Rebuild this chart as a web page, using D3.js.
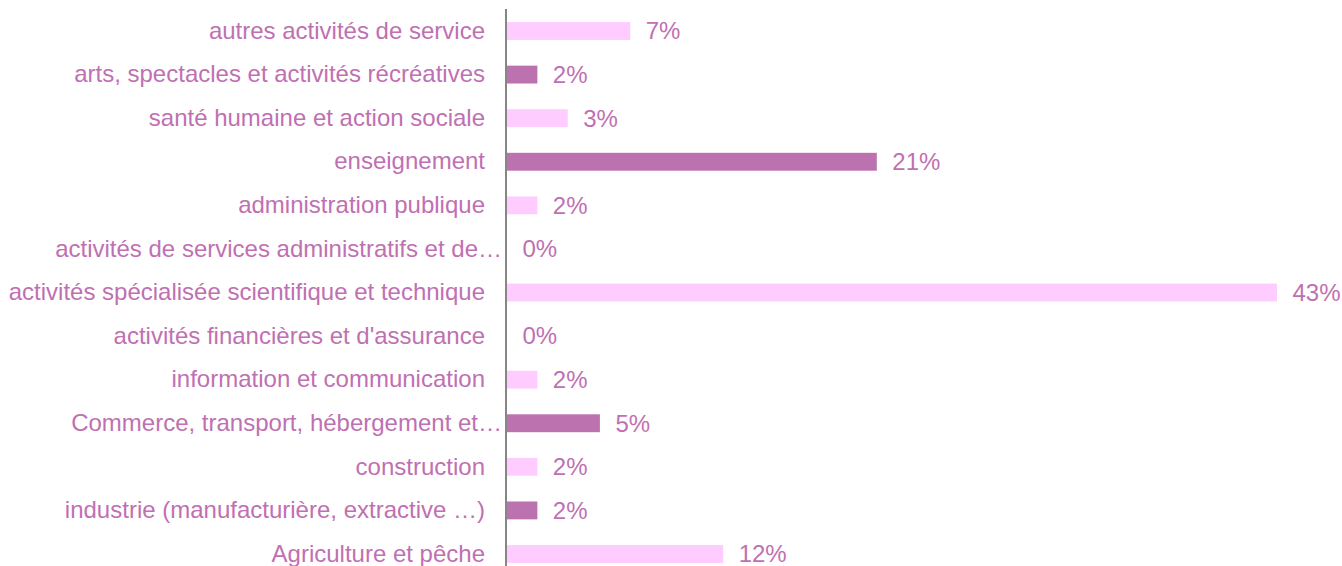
<!DOCTYPE html>
<html>
<head>
<meta charset="utf-8">
<script src="https://cdn.jsdelivr.net/npm/d3@7"></script>
<style>
  body { margin: 0; background: #fff; }
  text { font-family: "Liberation Sans", Arial, sans-serif; font-size: 24px; fill: #bf70b2; }
</style>
</head>
<body>
<div id="chart"></div>
<script>
// categories, top to bottom
const categories = [
  "autres activités de service",
  "arts, spectacles et activités récréatives",
  "santé humaine et action sociale",
  "enseignement",
  "administration publique",
  "activités de services administratifs et de…",
  "activités spécialisée scientifique et technique",
  "activités financières et d'assurance",
  "information et communication",
  "Commerce, transport, hébergement et…",
  "construction",
  "industrie (manufacturière, extractive …)",
  "Agriculture et pêche"
];
// share in percent
const values = [6.9, 1.7, 3.4, 20.7, 1.7, 0, 43.1, 0, 1.7, 5.2, 1.7, 1.7, 12.1];
const valueLabels = ["7%", "2%", "3%", "21%", "2%", "0%", "43%", "0%", "2%", "5%", "2%", "2%", "12%"];

const width = 1342, height = 566;
const margin = { top: 9, left: 507, right: 65 };

const svg = d3.select("#chart")
  .append("svg")
  .attr("width", width)
  .attr("height", height);

const x = d3.scaleLinear()
  .domain([0, d3.max(values)])
  .range([margin.left, width - margin.right]);

const y = d3.scaleBand()
  .domain(categories)
  .range([9.2, 575.8])
  .paddingInner(0.59)
  .paddingOuter(0.295);

const colors = ["#ffccff", "#bd72b0"];

svg.selectAll("rect.bar")
  .data(categories)
  .join("rect")
  .attr("class", "bar")
  .attr("x", x(0))
  .attr("y", d => y(d))
  .attr("width", (d, i) => x(values[i]) - x(0))
  .attr("height", y.bandwidth())
  .attr("fill", (d, i) => colors[i % 2]);

// category axis (truncated labels spill over to the axis line, like the original)
svg.append("g")
  .attr("transform", `translate(${margin.left - 1},0)`)
  .call(d3.axisLeft(y).tickSize(0).tickPadding(21))
  .call(g => g.select(".domain").remove())
  .call(g => g.selectAll("text")
    .style("font-size", "24px")
    .attr("fill", "#bf70b2")
    .attr("dx", d => d.endsWith("…") ? 17 : 0));

svg.append("line")
  .attr("x1", margin.left - 1)
  .attr("x2", margin.left - 1)
  .attr("y1", margin.top)
  .attr("y2", height)
  .attr("stroke", "#868686")
  .attr("stroke-width", 2);

svg.selectAll("text.val")
  .data(categories)
  .join("text")
  .attr("class", "val")
  .attr("x", (d, i) => x(values[i]) + 15.5)
  .attr("y", d => y(d) + y.bandwidth() / 2)
  .attr("dy", "0.35em")
  .text((d, i) => valueLabels[i]);
</script>
</body>
</html>
